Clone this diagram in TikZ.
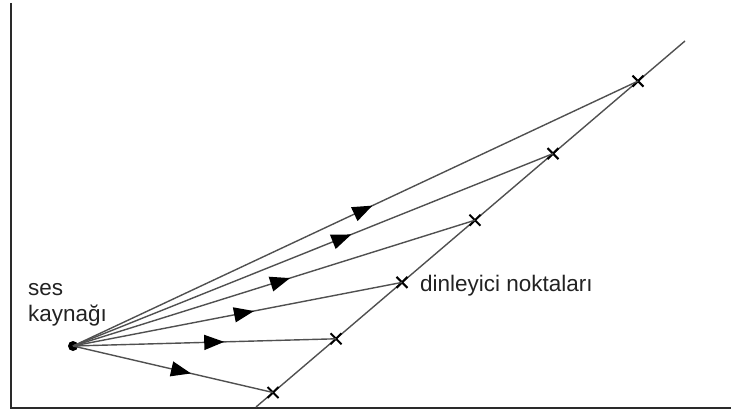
\documentclass[tikz,border=0pt]{standalone}
\usepackage{fontspec}
\setmainfont{Liberation Sans}
\usetikzlibrary{arrows.meta,decorations.markings,shapes.misc}
\definecolor{axiscol}{HTML}{2A2A2A}
\definecolor{raycol}{HTML}{505050}
\definecolor{txtcol}{HTML}{222222}
\begin{document}
\begin{tikzpicture}[x=1pt,y=-1pt,
  axisline/.style={draw=axiscol,line width=2.6pt},
  rayline/.style={draw=raycol,line width=1.4pt},
  listener/.style={cross out,draw=black,line width=2pt,minimum size=9pt,inner sep=0pt},
  srcdot/.style={circle,fill=black,minimum size=10pt,inner sep=0pt},
  lbl/.style={font=\fontsize{22.5}{27}\selectfont,text=txtcol,inner sep=0pt},
  arrowat/.style={postaction={decorate,decoration={markings,
     mark=at position #1 with {\arrow[black]{Triangle[length=20pt,width=15pt]}}}}}
]
\useasboundingbox (0,0) rectangle (731,414);
% axes
\coordinate (ytop) at (11,3);
\coordinate (origin) at (11,408);
\coordinate (xend) at (731,408);
\draw[axisline] (ytop) -- (origin) -- (xend);
% listener line
\coordinate (lstart) at (256,407);
\coordinate (lend) at (685,41);
\draw[rayline] (lstart) -- (lend);
% source
\node[srcdot] (src) at (73,346) {};
% listener points
\node[listener] (p1) at (273,392.5) {};
\node[listener] (p2) at (336,338.8) {};
\node[listener] (p3) at (402,282.4) {};
\node[listener] (p4) at (475,220.2) {};
\node[listener] (p5) at (553,153.6) {};
\node[listener] (p6) at (638,81.1) {};
% rays
\draw[rayline,arrowat=0.59] (src.center) -- (p1.center);
\draw[rayline,arrowat=0.575] (src.center) -- (p2.center);
\draw[rayline,arrowat=0.55] (src.center) -- (p3.center);
\draw[rayline,arrowat=0.54] (src.center) -- (p4.center);
\draw[rayline,arrowat=0.58] (src.center) -- (p5.center);
\draw[rayline,arrowat=0.53] (src.center) -- (p6.center);
% labels
\node[lbl,anchor=base west] (ses) at (28,295) {ses};
\node[lbl,anchor=base west] (kaynak) at (28,321) {kaynağı};
\node[lbl,anchor=base west] (dinl) at (420,291) {dinleyici noktaları};
\end{tikzpicture}
\end{document}
